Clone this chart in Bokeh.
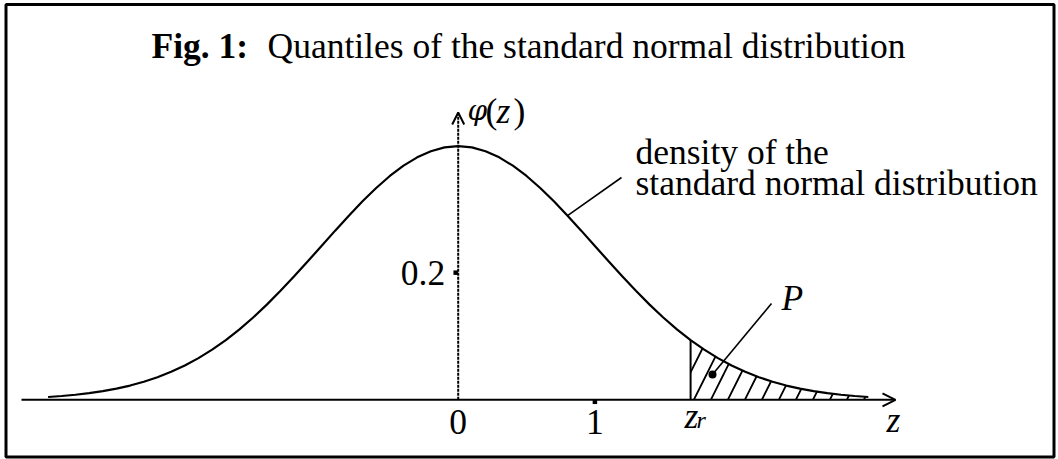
from bokeh.plotting import figure
from bokeh.models import Range1d, Arrow, OpenHead
from bokeh.core.properties import value
from bokeh.embed import file_html
from bokeh.resources import INLINE

# Tabulated standard normal density phi(z), z = -3.0 ... 3.0 in steps of 0.1
z_values = [round(-3.0 + 0.1 * i, 1) for i in range(61)]
phi_values = [
    0.0044, 0.0060, 0.0079, 0.0104, 0.0136, 0.0175, 0.0224, 0.0283, 0.0355, 0.0440,
    0.0540, 0.0656, 0.0790, 0.0940, 0.1109, 0.1295, 0.1497, 0.1714, 0.1942, 0.2179,
    0.2420, 0.2661, 0.2897, 0.3123, 0.3332, 0.3521, 0.3683, 0.3814, 0.3910, 0.3970,
    0.3989,
    0.3970, 0.3910, 0.3814, 0.3683, 0.3521, 0.3332, 0.3123, 0.2897, 0.2661, 0.2420,
    0.2179, 0.1942, 0.1714, 0.1497, 0.1295, 0.1109, 0.0940, 0.0790, 0.0656, 0.0540,
    0.0440, 0.0355, 0.0283, 0.0224, 0.0175, 0.0136, 0.0104, 0.0079, 0.0060, 0.0044,
]
z_r = 1.7                 # quantile marking the upper tail P
x_ticks = [0, 1]
x_tick_labels = ["0", "1"]
y_ticks = [0.2]
y_tick_labels = ["0.2"]
z_leader = 0.8            # where the "density" leader touches the curve

W, H = 1058, 459
PX_X = 136.7              # pixels per unit of z
PX_Y = 635.7              # pixels per unit of density
X0 = -457.7 / PX_X
X1 = X0 + W / PX_X
Y1 = 399.3 / PX_Y
Y0 = Y1 - H / PX_Y


def sx(px):
    """canvas pixel column -> data x"""
    return X0 + px / PX_X


def sy(py):
    """canvas pixel row (from top) -> data y"""
    return Y1 - py / PX_Y


FONT = value("Liberation Serif")
FS = "35.5px"
BASE_SHIFT = -11          # lift text so the baseline sits where intended

p = figure(width=W, height=H, output_backend="svg", toolbar_location=None,
           x_axis_location=None, y_axis_location=None,
           x_range=Range1d(X0, X1), y_range=Range1d(Y0, Y1),
           min_border=0, min_border_left=0, min_border_right=0,
           min_border_top=0, min_border_bottom=0)
p.grid.visible = False
p.outline_line_color = None
p.background_fill_color = "white"
p.border_fill_color = "white"

# frame around the figure
p.rect(x=[sx(529.5)], y=[sy(230.2)], width=1048, height=452.5,
       width_units="screen", height_units="screen",
       fill_color=None, line_color="black", line_width=3)

# hatched upper tail beyond z_r
tail = [i for i, z in enumerate(z_values) if z >= z_r - 1e-9]
z_tail = [z_values[i] for i in tail]
phi_tail = [phi_values[i] for i in tail]
p.varea(x=z_tail, y1=[0] * len(z_tail), y2=phi_tail, fill_color=None,
        hatch_pattern="/", hatch_scale=34, hatch_weight=1.8, hatch_color="black")
p.segment(x0=[z_r], y0=[0], x1=[z_r], y1=[phi_tail[0]], line_color="black", line_width=2)

# density curve
p.line(z_values, phi_values, line_color="black", line_width=2.2)

# axes with arrows
p.add_layout(Arrow(end=OpenHead(size=13, line_width=2, line_color="black"),
                   x_start=sx(21), y_start=0, x_end=sx(895), y_end=0,
                   line_color="black", line_width=2))
p.add_layout(Arrow(end=OpenHead(size=12, line_width=2, line_color="black"),
                   x_start=0, y_start=0, x_end=0, y_end=sy(112),
                   line_color="black", line_width=2, line_dash="3 1"))

# tick marks
p.rect(x=x_ticks[1:], y=[-2 / PX_Y] * len(x_ticks[1:]), width=4.5, height=4.5,
       width_units="screen", height_units="screen", fill_color="black", line_color=None)
p.rect(x=[-2.5 / PX_X] * len(y_ticks), y=y_ticks, width=4.5, height=4.5,
       width_units="screen", height_units="screen", fill_color="black", line_color=None)


def txt(x, y, s, size=FS, style="normal", align="left", xo=0, yo=0, font=FONT):
    p.text(x=[x], y=[y], text=[s], text_font=font, text_font_size=size,
           text_font_style=style, text_align=align, text_baseline="alphabetic",
           x_offset=xo, y_offset=yo + BASE_SHIFT, text_color="black")


# tick labels
for t, lab in zip(x_ticks, x_tick_labels):
    txt(t, 0, lab, align="center", yo=33)
for t, lab in zip(y_ticks, y_tick_labels):
    txt(0, t, lab, align="right", xo=-13, yo=11)
txt(z_r, 0, "z", style="italic", xo=-6, yo=27)
txt(z_r, 0, "r", size="24px", style="italic", xo=6, yo=31)
txt(sx(886), 0, "z", style="italic", yo=31)

# axis name phi(z)
txt(sx(467), sy(121), "φ", style="italic", size="28px", font=value("DejaVu Serif"))
txt(sx(485), sy(121), "(")
txt(sx(496), sy(121), "z", style="italic")
txt(sx(513), sy(121), ")")

# title
txt(sx(151), sy(56), "Fig. 1:", style="bold")
txt(sx(267), sy(56), "Quantiles of the standard normal distribution")

# density annotation
i_lead = z_values.index(z_leader)
p.segment(x0=[z_leader], y0=[phi_values[i_lead]], x1=[sx(621)], y1=[sy(177)],
          line_color="black", line_width=1.6)
txt(sx(635), sy(162), "density of the")
txt(sx(635), sy(193), "standard normal distribution")

# P annotation
p.segment(x0=[sx(712)], y0=[sy(374)], x1=[sx(771)], y1=[sy(303)],
          line_color="black", line_width=1.6)
p.scatter(x=[sx(712)], y=[sy(374)], size=8, marker="circle", fill_color="black", line_color=None)
txt(sx(781), sy(308), "P", style="italic")

open("out.html", "w").write(file_html(p, INLINE))
